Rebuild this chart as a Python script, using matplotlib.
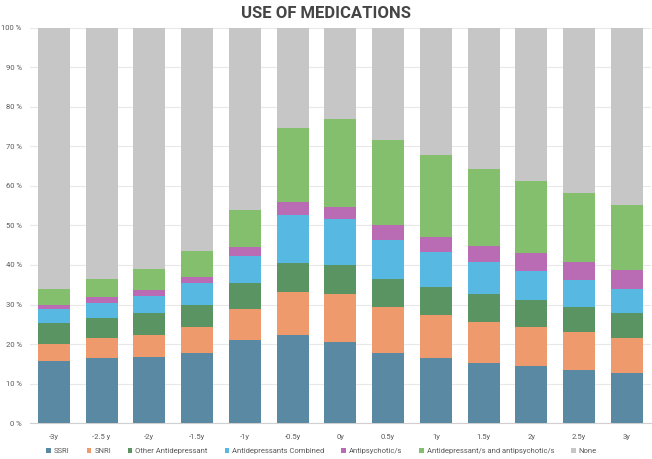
import matplotlib.pyplot as plt
import numpy as np

# categories (time relative to event)
periods = ['-3y', '-2.5 y', '-2y', '-1.5y', '-1y', '-0.5y', '0y', '0.5y', '1y', '1.5y', '2y', '2.5y', '3y']

# share of patients per medication group, in %
ssri =     [15.6, 16.4, 16.8, 17.8, 21.0, 22.3, 20.5, 17.8, 16.6, 15.3, 14.5, 13.5, 12.8]
snri =     [4.4, 5.1, 5.6, 6.6, 7.9, 10.9, 12.1, 11.6, 10.8, 10.4, 9.8, 9.6, 8.8]
other_ad = [5.3, 5.1, 5.5, 5.6, 6.5, 7.3, 7.3, 7.0, 7.0, 7.0, 6.8, 6.3, 6.3]
combined = [3.6, 3.9, 4.3, 5.4, 6.9, 12.1, 11.6, 10.0, 8.9, 8.0, 7.4, 6.7, 6.0]
antipsy =  [1.1, 1.5, 1.5, 1.6, 2.3, 3.3, 3.2, 3.7, 3.7, 4.1, 4.4, 4.6, 4.9]
ad_ap =    [3.9, 4.5, 5.2, 6.6, 9.3, 18.7, 22.1, 21.4, 20.9, 19.4, 18.3, 17.4, 16.3]
none =     [66.1, 63.5, 61.1, 56.4, 46.1, 25.4, 23.2, 28.5, 32.1, 35.8, 38.8, 41.9, 44.9]

series = [
    ('SSRI', ssri, '#5a8aa3'),
    ('SNRI', snri, '#ef9a6c'),
    ('Other Antidepressant', other_ad, '#5b9463'),
    ('Antidepressants Combined', combined, '#57b9e1'),
    ('Antipsychotic/s', antipsy, '#b96bb4'),
    ('Antidepressant/s and antipsychotic/s', ad_ap, '#83bf6c'),
    ('None', none, '#c6c6c6'),
]

plt.rcParams['font.family'] = ['Roboto', 'DejaVu Sans']

fig = plt.figure(figsize=(6.52, 4.59), dpi=100)
ax = fig.add_axes([0.046, 0.078, 0.952, 0.862])

x = np.arange(len(periods))
bottom = np.zeros(len(periods))
for name, vals, col in series:
    ax.bar(x, vals, 0.67, bottom=bottom, color=col, label=name, zorder=3)
    bottom += np.array(vals)

ax.set_xlim(-0.5, len(periods) - 0.5)
ax.set_ylim(0, 100)
ax.set_yticks(range(0, 101, 10))
ax.set_yticklabels([f'{v} %' for v in range(0, 101, 10)])
ax.set_xticks(x)
ax.set_xticklabels(periods)
ax.tick_params(axis='both', length=0, labelsize=5.5, colors='#595959')
ax.tick_params(axis='x', pad=8)
ax.tick_params(axis='y', pad=6)
ax.grid(axis='y', color='#e8e8e8', linewidth=0.8, zorder=0)
for s in ['top', 'right', 'left']:
    ax.spines[s].set_visible(False)
ax.spines['bottom'].set_color('#d0d0d0')

fig.text(0.5, 0.987, 'USE OF MEDICATIONS', ha='center', va='top', fontsize=12,
         fontweight='bold', color='#454545')

ax.legend(loc='upper center', bbox_to_anchor=(0.47, -0.045), ncol=7, frameon=False,
          fontsize=5.5, handlelength=0.6, handleheight=0.6, handletextpad=0.4,
          columnspacing=2.2, labelcolor='#595959')

fig.savefig('out.png', dpi=100)
